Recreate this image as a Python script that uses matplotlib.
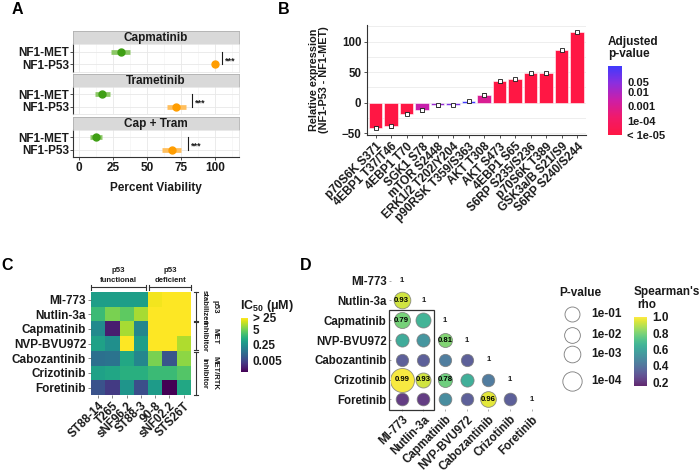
import numpy as np
import matplotlib
matplotlib.use('Agg')
import matplotlib.pyplot as plt
from matplotlib.colors import LinearSegmentedColormap, Normalize
from matplotlib.patches import Rectangle

plt.rcParams['font.family'] = ['Liberation Sans', 'DejaVu Sans']
plt.rcParams['font.weight'] = 'bold'
plt.rcParams['mathtext.fontset'] = 'custom'
plt.rcParams['mathtext.rm'] = 'Liberation Sans:bold'
plt.rcParams['mathtext.it'] = 'Liberation Sans:bold'
plt.rcParams['mathtext.bf'] = 'Liberation Sans:bold'

# ---------------- Panel A data ----------------
a_drugs = ['Capmatinib', 'Trametinib', 'Cap + Tram']
a_lines = ['NF1-MET', 'NF1-P53']
a_mean = [[31, 100], [17, 71.5], [12.5, 68]]
a_low = [[23.5, 99.5], [12, 65], [8, 61]]
a_high = [[37.5, 100.5], [23, 79], [17, 75]]
a_sig_x = [105, 83, 80]
a_sig_text = ['***', '***', '***']
a_ticks = [0, 25, 50, 75, 100]

# ---------------- Panel B data ----------------
b_sites = ['p70S6K S371', '4EBP1 T37/T46', '4EBP1 T70', 'SGK1 S78', 'mTOR S2448',
           'ERK1/2 T202/Y204', 'p90RSK T359/S363', 'AKT T308', 'AKT S473',
           '4EBP1 S65', 'S6RP S235/S236', 'p70S6K T389', 'GSK3a/B S21/S9',
           'S6RP S240/S244']
b_diff = [-41, -39, -18, -12, -4.5, -4, 2, 13, 35, 39, 48, 48, 86, 116]
b_err = [2.5, 2.5, 2.5, 2.5, 2, 2, 2, 2.5, 2, 2, 2, 2, 2, 2]
b_padj = [1e-6, 1e-6, 1e-6, 3e-3, 0.02, 0.06, 0.5, 1e-3, 1e-6, 1e-6, 1e-6,
          1e-6, 1e-6, 1e-6]
b_yticks = [-50, 0, 50, 100]
b_cbar_ticks = [0.05, 0.01, 0.001, 1e-4, 1e-5]
b_cbar_labels = ['0.05', '0.01', '0.001', '1e-04', '< 1e-05']

# ---------------- Panel C data ----------------
c_drugs = ['MI-773', 'Nutlin-3a', 'Capmatinib', 'NVP-BVU972', 'Cabozantinib',
           'Crizotinib', 'Foretinib']
c_lines = ['ST88-14', 'T265', 'sNF96.2', 'ST88-3', '90-8', 'sNF02.2', 'STS26T']
c_ic50 = [
    [0.44, 0.44, 0.44, 0.44, 22, 30, 30],
    [1.7, 5.8, 3.6, 9.7, 30, 30, 30],
    [0.17, 0.0011, 9.7, 0.13, 30, 30, 30],
    [0.49, 0.22, 30, 0.44, 30, 30, 10.5],
    [0.043, 0.049, 0.68, 0.13, 5.8, 0.011, 7.2],
    [0.49, 0.61, 0.95, 0.95, 1.7, 1.7, 2.9],
    [0.0094, 0.0034, 0.28, 0.0083, 0.39, 0.0004, 0.68],
]
c_cbar_ticks = [0.005, 0.25, 5, 25]
c_cbar_labels = ['0.005', '0.25', '5', '> 25']
c_col_groups = [('p53\nfunctional', 0, 3), ('p53\ndeficient', 4, 6)]
c_row_groups = [('p53', 'stabilizer', 0, 1), ('MET', 'inhibitor', 2, 3),
                ('MET/RTK', 'inhibitor', 4, 6)]

# ---------------- Panel D data ----------------
d_drugs = c_drugs
d_rho = [
    [],
    [0.93],
    [0.79, 0.66],
    [0.62, 0.54, 0.81],
    [0.33, 0.33, 0.44, 0.33],
    [0.99, 0.93, 0.78, 0.64, 0.43],
    [0.22, 0.22, 0.50, 0.33, 0.96, 0.33],
]
d_p = [
    [],
    [1e-3],
    [4e-3, 0.1],
    [0.3, 0.3, 0.18],
    [0.5, 0.5, 0.5, 0.5],
    [1e-6, 0.1, 0.18, 0.3, 0.45],
    [0.4, 0.4, 0.4, 0.45, 0.01, 0.4],
]
d_p_legend = [1e-1, 1e-2, 1e-3, 1e-4]
d_p_legend_labels = ['1e-01', '1e-02', '1e-03', '1e-04']
d_rho_ticks = [0.2, 0.4, 0.6, 0.8, 1.0]

# ---------------- figure helpers ----------------
W, H = 700, 471
fig = plt.figure(figsize=(7, 4.71), dpi=100)


def px_axes(x0, y0, x1, y1):
    return fig.add_axes([x0 / W, 1 - y1 / H, (x1 - x0) / W, (y1 - y0) / H])


ov = fig.add_axes([0, 0, 1, 1], zorder=10)
ov.set_xlim(0, W)
ov.set_ylim(H, 0)
ov.axis('off')

TXT = '#1a1a1a'

# ================= Panel A =================
col_dark = ['#3f9f14', '#ff9d00']
col_light = ['#8cc866', '#ffbf5e']
strip_y = [(31, 44, 72), (74, 87, 114), (117, 130, 157)]
for k in range(3):
    s0, p0, p1 = strip_y[k]
    sax = px_axes(73, s0, 239, p0)
    sax.set_xticks([])
    sax.set_yticks([])
    sax.set_facecolor('#d9d9d9')
    for sp in sax.spines.values():
        sp.set_color('#b0b0b0')
        sp.set_linewidth(0.6)
    sax.text(0.5, 0.45, a_drugs[k], transform=sax.transAxes, ha='center',
             va='center', fontsize=8.5, color=TXT)
    ax = px_axes(73, p0, 239, p1)
    ax.set_xlim(-4.4, 117.6)
    ax.set_ylim(1.6, -0.6)
    ax.set_xticks(a_ticks)
    ax.set_xticks(np.arange(12.5, 113, 25), minor=True)
    ax.set_yticks([0, 1])
    ax.set_yticklabels(a_lines, fontsize=8.5, color=TXT)
    ax.grid(which='major', color='#e8e8e8', lw=0.6)
    ax.grid(which='minor', axis='x', color='#f2f2f2', lw=0.4)
    ax.set_axisbelow(True)
    for g in range(2):
        ax.plot([a_low[k][g], a_high[k][g]], [g, g], color=col_light[g], lw=3.4,
                solid_capstyle='butt', zorder=2)
        ax.plot(a_mean[k][g], g, 'o', color=col_dark[g], ms=5, zorder=3)
    ax.plot([a_sig_x[k]] * 2, [0, 1], color=TXT, lw=0.8)
    ax.text(a_sig_x[k] + 2.5, 0.72, a_sig_text[k], fontsize=6.5, ha='left',
            va='center', color=TXT)
    for side in ['top', 'right']:
        ax.spines[side].set_color('#e0e0e0')
        ax.spines[side].set_linewidth(0.5)
    ax.spines['left'].set_color('#333333')
    ax.spines['left'].set_linewidth(0.8)
    ax.tick_params(axis='y', length=2, width=0.6, color='#333333', pad=1)
    ax.tick_params(which='minor', length=0)
    if k < 2:
        ax.spines['bottom'].set_color('#e0e0e0')
        ax.spines['bottom'].set_linewidth(0.5)
        ax.tick_params(axis='x', labelbottom=False, length=0)
    else:
        ax.spines['bottom'].set_color('#333333')
        ax.spines['bottom'].set_linewidth(0.8)
        ax.tick_params(axis='x', length=2, width=0.6, color='#333333',
                       labelsize=8.5, labelcolor=TXT, pad=1.5)
ov.text(156, 188, 'Percent Viability', ha='center', va='center', fontsize=8.5,
        color=TXT)
ov.text(17, 9, 'A', ha='center', va='center', fontsize=11.5)

# ================= Panel B =================
cmap_b = LinearSegmentedColormap.from_list(
    'padj', [(0, '#ff1744'), (0.25, '#f21a6a'), (0.5, '#cc1fa8'),
             (0.75, '#8a2fe0'), (1, '#3b3bff')])
lp_min, lp_max = -5, -0.2
norm_b = Normalize(lp_min, lp_max)
bax = px_axes(367, 25, 586, 135)
xb = np.arange(len(b_sites))
bcols = cmap_b(norm_b(np.clip(np.log10(b_padj), lp_min, lp_max)))
bax.bar(xb, b_diff, width=0.9, color=bcols, edgecolor='white', lw=0.4, zorder=2)
bax.errorbar(xb, b_diff, yerr=b_err, fmt='none', ecolor=TXT, elinewidth=0.7,
             capsize=1.6, capthick=0.7, zorder=3)
bax.plot(xb, b_diff, 's', ms=2.8, mfc='white', mec=TXT, mew=0.6, zorder=4)
bax.set_xlim(-0.55, 13.58)
bax.set_ylim(-53, 127.4)
bax.set_yticks(b_yticks)
bax.set_yticks([-25, 25, 75, 125], minor=True)
bax.grid(which='both', axis='y', color='#ebebeb', lw=0.6)
bax.set_axisbelow(True)
bax.set_xticks(xb)
bax.set_xticklabels(b_sites, rotation=45, ha='right', va='top',
                    rotation_mode='anchor', fontsize=8.5, color=TXT)
bax.tick_params(axis='y', labelsize=8.3, labelcolor=TXT, length=2, width=0.6,
                color='#333333', pad=2)
bax.tick_params(axis='x', length=2, width=0.6, color='#333333', pad=2)
bax.tick_params(which='minor', length=0)
for side in ['top', 'right']:
    bax.spines[side].set_visible(False)
for side in ['left', 'bottom']:
    bax.spines[side].set_color('#333333')
    bax.spines[side].set_linewidth(0.8)
ov.text(319, 80, 'Relative expression\n(NF1-P53 - NF1-MET)', rotation=90,
        ha='center', va='center', fontsize=7.8, color=TXT, linespacing=1.05)
ov.text(284, 9, 'B', ha='center', va='center', fontsize=11.5)

cb_b = px_axes(607.7, 65.7, 621.7, 135)
grad = np.linspace(lp_min, lp_max, 256)
cb_b.imshow(grad[:, None], aspect='auto', cmap=cmap_b, norm=norm_b,
            origin='lower', extent=[0, 1, lp_min, lp_max])
cb_b.set_xticks([])
cb_b.yaxis.tick_right()
cb_b.set_yticks(np.log10(b_cbar_ticks))
cb_b.set_yticklabels(b_cbar_labels, fontsize=8, color=TXT)
cb_b.tick_params(axis='y', length=0, pad=4)
for sp in cb_b.spines.values():
    sp.set_visible(False)
ov.text(608, 48, 'Adjusted\np-value', ha='left', va='center', fontsize=8.5,
        color=TXT, linespacing=1.05)

# ================= Panel C =================
c_anchor_log = [-3.4, np.log10(0.005), np.log10(0.25), np.log10(5), np.log10(25)]
c_anchor_pos = [0, 0.2, 0.51, 0.78, 1.0]


def c_scale(v):
    return np.interp(np.log10(np.asarray(v, dtype=float)), c_anchor_log,
                     c_anchor_pos)


cax = px_axes(91, 292.3, 190.7, 395)
cax.imshow(c_scale(c_ic50), cmap='viridis', vmin=0, vmax=1, aspect='auto')
cax.set_yticks(range(len(c_drugs)))
cax.set_yticklabels(c_drugs, fontsize=8.5, color=TXT)
cax.set_xticks(range(len(c_lines)))
cax.set_xticklabels(c_lines, rotation=45, ha='right', va='top',
                    rotation_mode='anchor', fontsize=8.5, color=TXT)
cax.tick_params(length=2, width=0.5, color='#555555', pad=1.5)
for sp in cax.spines.values():
    sp.set_visible(False)

# column group brackets (px coords)
col_x0, col_w = 91, (190.7 - 91) / 7
for lab, c0, c1 in c_col_groups:
    xa = col_x0 + c0 * col_w + (1.5 if c0 > 0 else 0)
    xb_ = col_x0 + (c1 + 1) * col_w - (1.5 if c1 < 6 else 0)
    ov.plot([xa, xb_], [287.3, 287.3], color='#333333', lw=0.8)
    for xx in (xa, xb_):
        ov.plot([xx, xx], [285, 289.6], color='#333333', lw=0.8)
    ov.text((xa + xb_) / 2, 275, lab, ha='center', va='center', fontsize=5.6,
            color=TXT, linespacing=1.6)
row_y0, row_h = 292.3, (395 - 292.3) / 7
for outer, inner, r0, r1 in c_row_groups:
    ya = row_y0 + r0 * row_h + (0.7 if r0 > 0 else 0)
    yb = row_y0 + (r1 + 1) * row_h - (0.7 if r1 < 6 else 0)
    ov.plot([196, 196], [ya, yb], color='#333333', lw=0.8)
    for yy in (ya, yb):
        ov.plot([193.8, 198.2], [yy, yy], color='#333333', lw=0.8)
    ym = (ya + yb) / 2
    ov.text(215, ym, outer, rotation=270, ha='center', va='center',
            fontsize=5.6, color=TXT)
    ov.text(204, ym, inner, rotation=270, ha='center', va='center',
            fontsize=5.6, color=TXT)
ov.text(7, 265, 'C', ha='center', va='center', fontsize=11.5)

cb_c = px_axes(240.7, 318, 247.3, 371.7)
cb_c.imshow(np.linspace(0, 1, 256)[:, None], aspect='auto', cmap='viridis',
            origin='lower', extent=[0, 1, 0, 1])
cb_c.set_xticks([])
cb_c.yaxis.tick_right()
cb_c.set_yticks(c_scale(c_cbar_ticks))
cb_c.set_yticklabels(c_cbar_labels, fontsize=8.5, color=TXT)
cb_c.tick_params(axis='y', length=0, pad=4)
for sp in cb_c.spines.values():
    sp.set_visible(False)
ov.text(240, 305.7, r'IC$_{50}$ ($\mathregular{\mu}$M)', ha='left',
        va='center', fontsize=9, color=TXT)

# ================= Panel D =================
rho_min, rho_max = 0.16, 1.0
norm_d = Normalize(rho_min, rho_max)
cmap_d = plt.get_cmap('viridis')
n = len(d_drugs)


def d_diam(p):
    return np.interp(-np.log10(p), [0.3, 1, 2, 3, 4, 6],
                     [12.3, 15, 15.7, 16.7, 19.3, 24])


dax = px_axes(390.9, 270.8, 542.5, 409.2)
dax.set_xlim(-0.5, n - 0.5)
dax.set_ylim(n - 0.5, -0.5)
for i in range(n):
    dax.text(i, i, '1', ha='center', va='center', fontsize=5.6, color=TXT)
    for j in range(i):
        r = d_rho[i][j]
        d = d_diam(d_p[i][j])
        dax.scatter(j, i, s=(d * 0.72) ** 2, color=cmap_d(norm_d(r)), alpha=0.85,
                    edgecolors='#7a7a7a', linewidths=0.6, zorder=2)
        if r > 0.75:
            dax.text(j, i, f'{r:.2f}', ha='center', va='center', fontsize=5.6,
                     color='black', zorder=3)
dax.add_patch(Rectangle((-0.59, 1.48), 2.08, 5.05, fill=False, ec='#333333',
                        lw=0.9, clip_on=False, zorder=4))
dax.set_xticks(range(n))
dax.set_xticklabels(d_drugs, rotation=45, ha='right', va='top',
                    rotation_mode='anchor', fontsize=8.3, color=TXT)
dax.set_yticks(range(n))
dax.set_yticklabels(d_drugs, fontsize=8.3, color=TXT)
dax.tick_params(length=1.5, width=0.5, color='#888888', pad=1.5)
for sp in dax.spines.values():
    sp.set_visible(False)
ov.text(306, 266, 'D', ha='center', va='center', fontsize=11.5)

# P-value legend
ov.text(559, 293, 'P-value', ha='left', va='center', fontsize=8.5, color=TXT)
leg_y = [314.3, 335, 354.3, 380.7]
for pv, lab, yy in zip(d_p_legend, d_p_legend_labels, leg_y):
    ov.scatter(571.7, yy, s=(d_diam(pv) * 0.72) ** 2, facecolor='white',
               edgecolors='#7a7a7a', linewidths=0.6)
    ov.text(591, yy, lab, ha='left', va='center', fontsize=8.5, color=TXT)

# rho colorbar
cb_d = px_axes(634, 316.7, 646.7, 385.7)
cb_d.imshow(np.linspace(rho_min, rho_max, 256)[:, None], aspect='auto',
            cmap=cmap_d, norm=norm_d, origin='lower', alpha=0.85,
            extent=[0, 1, rho_min, rho_max])
cb_d.set_xticks([])
cb_d.yaxis.tick_right()
cb_d.set_yticks(d_rho_ticks)
cb_d.set_yticklabels([f'{t:.1f}' for t in d_rho_ticks], fontsize=8.5, color=TXT)
cb_d.tick_params(axis='y', length=0, pad=4)
for sp in cb_d.spines.values():
    sp.set_visible(False)
ov.text(634, 292, "Spearman's", ha='left', va='center', fontsize=8.5, color=TXT)
ov.text(647, 305.5, 'rho', ha='center', va='center', fontsize=8.5, color=TXT)

fig.savefig('out.png', dpi=100)
